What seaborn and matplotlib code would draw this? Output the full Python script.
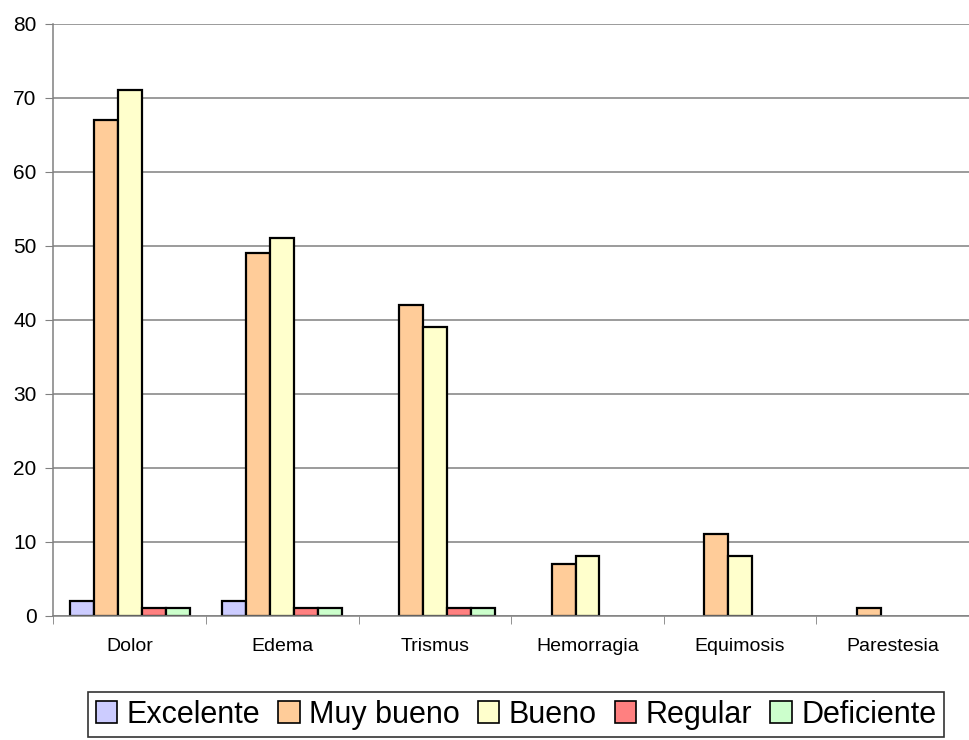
import numpy as np
import pandas as pd
import seaborn as sns
import matplotlib.pyplot as plt
from matplotlib.patches import Patch

# Data #########################################################################

sintomas = ['Dolor', 'Edema', 'Trismus', 'Hemorragia', 'Equimosis', 'Parestesia']
calificaciones = ['Excelente', 'Muy bueno', 'Bueno', 'Regular', 'Deficiente']

excelente = [2, 2, 0, 0, 0, 0]
muy_bueno = [67, 49, 42, 7, 11, 1]
bueno = [71, 51, 39, 8, 8, 0]
regular = [1, 1, 1, 0, 0, 0]
deficiente = [1, 1, 1, 0, 0, 0]

colores = ['#CCCCFF', '#FFCC99', '#FFFFCC', '#FF8080', '#CCFFCC']

# Long format for seaborn ######################################################

series = [excelente, muy_bueno, bueno, regular, deficiente]
df = pd.DataFrame({
    'sintoma': np.tile(sintomas, len(calificaciones)),
    'calificacion': np.repeat(calificaciones, len(sintomas)),
    'n': np.concatenate(series),
})

sns.set_style('white')
plt.rcParams['font.family'] = ['Liberation Sans', 'DejaVu Sans']
plt.rcParams['text.color'] = 'black'
plt.rcParams['xtick.color'] = 'black'
plt.rcParams['ytick.color'] = 'black'

fig = plt.figure(figsize=(9.7, 7.4), dpi=100)
ax = fig.add_axes([0.055, 0.168, 0.944, 0.8])

sns.barplot(
    data=df, x='sintoma', y='n', hue='calificacion',
    order=sintomas, hue_order=calificaciones,
    palette=colores, saturation=1, edgecolor='black', linewidth=1.6,
    width=0.785, gap=0, ax=ax, legend=False,
)

# hide empty bars (Excel draws nothing for 0)
for p in ax.patches:
    if p.get_height() == 0:
        p.set_visible(False)

ax.set_ylim(0, 80)
ax.set_xlim(-0.5, 5.5)
ax.set_yticks(range(0, 81, 10))
ax.yaxis.grid(True, color='#808080', linewidth=1.1)
ax.set_axisbelow(True)
ax.set_xlabel('')
ax.set_ylabel('')

for s in ['top', 'right']:
    ax.spines[s].set_visible(False)
for s in ['left', 'bottom']:
    ax.spines[s].set_color('#808080')
    ax.spines[s].set_linewidth(1.1)

ax.tick_params(axis='y', length=6, color='#808080', labelsize=15, pad=6, left=True,
               labelcolor='black')
ax.tick_params(axis='x', length=0, labelsize=14, pad=16, labelcolor='black')
ax.set_xticks(np.arange(-0.5, 6, 1), minor=True)
ax.tick_params(axis='x', which='minor', length=6, color='#808080', bottom=True)

handles = [Patch(facecolor=c, edgecolor='black', linewidth=1.2) for c in colores]
leg = ax.legend(
    handles, calificaciones,
    loc='center', bbox_to_anchor=(0.532, 0.034), bbox_transform=fig.transFigure,
    ncol=5, fontsize=22, frameon=True, fancybox=False, edgecolor='black',
    handlelength=0.7, handleheight=0.7, handletextpad=0.3, columnspacing=0.6,
    borderpad=0.25, borderaxespad=0,
)
leg.get_frame().set_linewidth(1.2)

fig.savefig('out.png', dpi=100)
